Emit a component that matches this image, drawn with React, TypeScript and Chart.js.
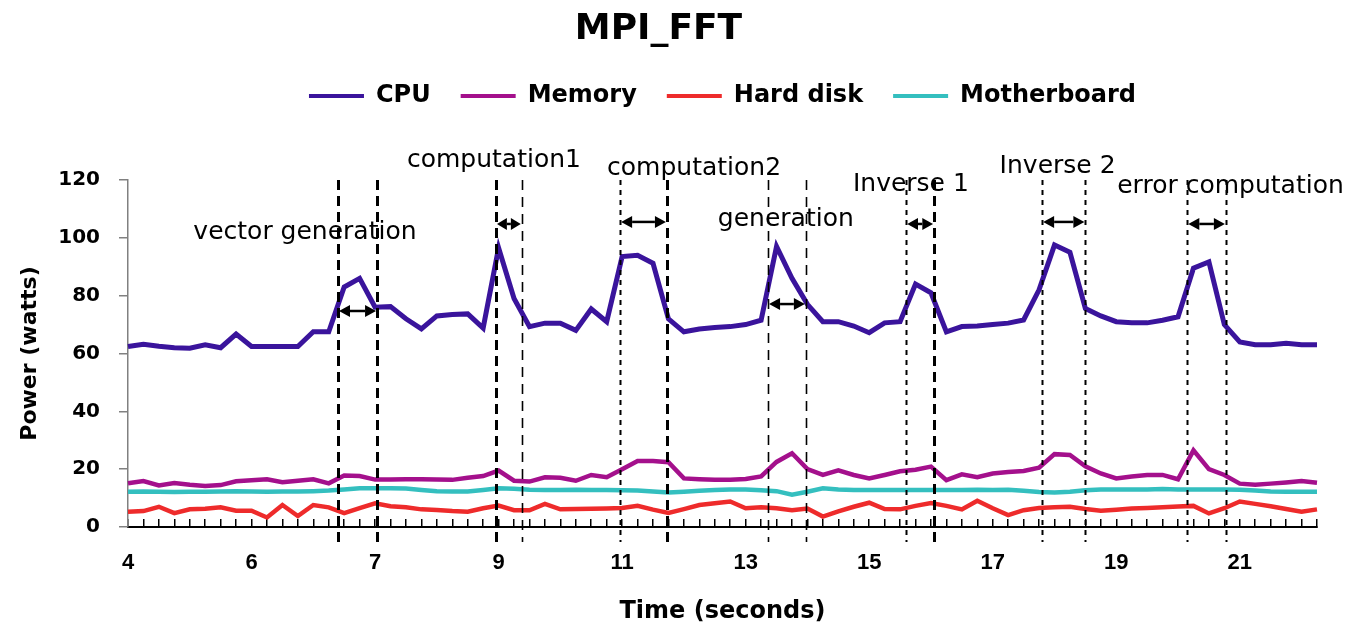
import React, { useEffect, useRef } from 'react';
import { Chart, registerables } from 'chart.js';

Chart.register(...registerables);

const chartTitle = 'MPI_FFT';
const xTitle = 'Time (seconds)';
const yTitle = 'Power (watts)';

// tick labels shown on every 8th sample
const tickLabels = ['4', '6', '7', '9', '11', '13', '15', '17', '19', '21'];
const LABEL_EVERY = 8;

const seriesNames = ['CPU', 'Memory', 'Hard disk', 'Motherboard'];
const seriesColors = ['#3a149c', '#a4108c', '#ee2b2b', '#34bfbf'];

const cpu = [
  62.4, 63.2, 62.5, 62, 61.8, 63, 62, 66.7, 62.4, 62.4, 62.4, 62.4, 67.5, 67.5, 83, 86,
  76, 76.2, 72, 68.5, 73, 73.5, 73.7, 68.8, 96.5, 79, 69.3, 70.5, 70.5, 68, 75.4, 71,
  93.5, 94, 91.2, 72, 67.5, 68.5, 69, 69.3, 70, 71.5, 97, 86, 77, 71, 71, 69.5,
  67.2, 70.6, 71, 84, 81, 67.5, 69.3, 69.5, 70, 70.5, 71.6, 82, 97.5, 95, 75.6, 73,
  71, 70.6, 70.6, 71.5, 72.7, 89.5, 91.7, 70, 64, 63, 63, 63.5, 63, 63,
];

const memory = [
  15.1, 15.9, 14.4, 15.2, 14.6, 14.2, 14.5, 15.8, 16.2, 16.5, 15.5, 16, 16.5, 15.1, 17.8, 17.6,
  16.4, 16.4, 16.5, 16.5, 16.4, 16.3, 17, 17.6, 19.5, 16, 15.7, 17.2, 17, 16, 18, 17.2,
  20, 22.8, 22.8, 22.4, 16.8, 16.5, 16.3, 16.3, 16.6, 17.5, 22.5, 25.5, 20, 18, 19.6, 18,
  16.8, 18, 19.3, 19.8, 20.9, 16.2, 18.2, 17.2, 18.5, 19, 19.4, 20.5, 25.2, 24.9, 21, 18.5,
  16.8, 17.5, 18, 18, 16.5, 26.5, 20, 18, 15, 14.6, 15, 15.4, 15.9, 15.3,
];

const hardDisk = [
  5.3, 5.5, 7, 4.8, 6.1, 6.3, 6.8, 5.6, 5.6, 3.3, 7.6, 3.8, 7.6, 6.8, 4.8, 6.5,
  8.2, 7.2, 6.8, 6.1, 5.9, 5.5, 5.3, 6.5, 7.4, 5.8, 5.8, 8, 6.1, 6.2, 6.3, 6.4,
  6.6, 7.3, 6, 4.9, 6.2, 7.6, 8.2, 8.8, 6.5, 6.8, 6.5, 5.8, 6.4, 3.6, 5.4, 7,
  8.4, 6.2, 6.1, 7.3, 8.3, 7.3, 6.1, 9.1, 6.5, 4.1, 5.8, 6.6, 6.8, 7, 6.2, 5.6,
  6, 6.4, 6.6, 6.8, 7.1, 7.3, 4.7, 6.5, 8.8, 8, 7.2, 6.2, 5.3, 6.1,
];

const motherboard = [
  12.2, 12.3, 12.2, 12.1, 12.2, 12.2, 12.3, 12.4, 12.3, 12.2, 12.3, 12.3, 12.4, 12.6, 13.0, 13.4,
  13.4, 13.4, 13.3, 12.8, 12.4, 12.3, 12.3, 12.8, 13.4, 13.2, 12.9, 12.8, 12.8, 12.9, 12.8, 12.8,
  12.7, 12.6, 12.3, 11.9, 12.2, 12.5, 12.8, 13, 13, 12.7, 12.4, 11.2, 12.2, 13.4, 13.0, 12.8,
  12.8, 12.8, 12.8, 12.8, 12.8, 12.8, 12.8, 12.9, 12.8, 12.9, 12.5, 12.1, 11.9, 12.2, 12.7, 13,
  13, 13, 13, 13.1, 13, 13, 13, 13, 12.9, 12.6, 12.3, 12.2, 12.2, 12.2,
];

const categories = cpu.map((_, i) => (i % LABEL_EVERY === 0 ? tickLabels[i / LABEL_EVERY] : ''));

// phase annotations (x in sample-index units, y in watts)
const phaseNames = ['vector generation', 'computation1', 'computation2', 'generation', 'Inverse 1', 'Inverse 2', 'error computation'];
const phaseStart = [13.6, 23.83, 31.87, 41.45, 50.4, 59.2, 68.6];
const phaseEnd = [16.13, 25.5, 34.9, 43.9, 52.2, 62.0, 71.1];
const phaseStartStyle = ['thick', 'thick', 'dot', 'thin', 'dot', 'dot', 'dot'];
const phaseEndStyle = ['thick', 'thin', 'thick', 'thin', 'thick', 'dot', 'dot'];
const arrowLevel = [74.7, 104.8, 105.5, 77.1, 104.8, 105.5, 104.8];
const labelX = [11.46, 23.7, 36.66, 42.6, 50.7, 60.2, 71.4];
const labelY = [101.7, 126.9, 124.1, 106.2, 118.6, 124.8, 117.9];

const lineStyles: Record<string, { w: number; dash: number[] }> = {
  thick: { w: 3, dash: [10, 6] },
  thin: { w: 1.6, dash: [10, 7] },
  dot: { w: 2, dash: [5, 5] },
};

const phasePlugin = {
  id: 'phases',
  afterDatasetsDraw(chart: any) {
    const { ctx, scales } = chart;
    const x = scales.x;
    const y = scales.y;
    const top = y.getPixelForValue(120);
    const bottom = y.getPixelForValue(0) + 15;
    ctx.save();
    ctx.strokeStyle = '#000';
    ctx.fillStyle = '#000';
    for (let i = 0; i < phaseNames.length; i++) {
      const xs = [phaseStart[i], phaseEnd[i]];
      const st = [phaseStartStyle[i], phaseEndStyle[i]];
      for (let k = 0; k < 2; k++) {
        const s = lineStyles[st[k]];
        const px = Math.round(x.getPixelForValue(xs[k])) + 0.5;
        ctx.lineWidth = s.w;
        ctx.setLineDash(s.dash);
        ctx.beginPath();
        ctx.moveTo(px, top);
        ctx.lineTo(px, bottom);
        ctx.stroke();
      }
      // double-headed arrow
      const x1 = x.getPixelForValue(phaseStart[i]) + 1;
      const x2 = x.getPixelForValue(phaseEnd[i]) - 1;
      const ay = y.getPixelForValue(arrowLevel[i]);
      const head = Math.min(11, (x2 - x1) / 2.4);
      ctx.setLineDash([]);
      ctx.lineWidth = 2.5;
      ctx.beginPath();
      ctx.moveTo(x1 + head, ay);
      ctx.lineTo(x2 - head, ay);
      ctx.stroke();
      ctx.beginPath();
      ctx.moveTo(x1, ay);
      ctx.lineTo(x1 + head, ay - 6);
      ctx.lineTo(x1 + head, ay + 6);
      ctx.closePath();
      ctx.fill();
      ctx.beginPath();
      ctx.moveTo(x2, ay);
      ctx.lineTo(x2 - head, ay - 6);
      ctx.lineTo(x2 - head, ay + 6);
      ctx.closePath();
      ctx.fill();
      // label
      ctx.font = '25px "DejaVu Sans"';
      ctx.textAlign = 'center';
      ctx.textBaseline = 'middle';
      ctx.fillText(phaseNames[i], x.getPixelForValue(labelX[i]), y.getPixelForValue(labelY[i]));
    }
    ctx.restore();
  },
};

export default function App() {
  const canvasRef = useRef<HTMLCanvasElement | null>(null);

  useEffect(() => {
    document.body.style.margin = '0';
    document.body.style.overflow = 'hidden';
    const canvas = canvasRef.current;
    if (!canvas) return;
    const series = [cpu, memory, hardDisk, motherboard];
    const widths = [5, 4.5, 4.5, 4.5];
    const chart = new Chart(canvas, {
      type: 'line',
      data: {
        labels: categories,
        datasets: series.map((d, i) => ({
          label: seriesNames[i],
          data: d,
          borderColor: seriesColors[i],
          backgroundColor: seriesColors[i],
          borderWidth: widths[i],
          pointRadius: 0,
          tension: 0,
          fill: false,
        })),
      },
      options: {
        responsive: false,
        animation: false,
        layout: { padding: { left: 0, right: 33, top: 0, bottom: 0 } },
        plugins: {
          title: {
            display: true,
            text: chartTitle,
            color: '#000',
            font: { family: '"DejaVu Sans"', size: 36, weight: 'bold' },
            padding: { top: 8.4, bottom: 2.4 },
          },
          subtitle: {
            display: true,
            text: '',
            weight: 500,
            font: { size: 10 },
            padding: { top: 25, bottom: 25 },
          } as any,
          legend: {
            display: true,
            position: 'top',
            fullSize: false,
            labels: {
              color: '#000',
              font: { family: '"DejaVu Sans"', size: 24, weight: 'bold' },
              boxWidth: 55,
              boxHeight: 4,
              padding: 30,
              generateLabels: (c: any) =>
                Chart.defaults.plugins.legend.labels.generateLabels(c).map((l: any) => ({ ...l, lineWidth: 0 })),
            },
          },
          tooltip: { enabled: false },
        },
        scales: {
          x: {
            type: 'category',
            offset: false,
            grid: { display: true, drawOnChartArea: false, drawTicks: true, tickLength: -8, color: '#000', lineWidth: 1.5 },
            border: { display: true, color: '#000', width: 2 },
            ticks: {
              autoSkip: false,
              maxRotation: 0,
              minRotation: 0,
              padding: 31,
              color: '#000',
              font: { family: '"Liberation Sans"', size: 22, weight: 'bold' },
              callback: function (this: any, v: any) {
                return this.getLabelForValue(v);
              },
            },
            title: {
              display: true,
              text: xTitle,
              color: '#000',
              font: { family: '"DejaVu Sans"', size: 24, weight: 'bold' },
              padding: { top: 0, bottom: 1 },
            },
            afterFit: (s: any) => {
              s.height = 100;
            },
          },
          y: {
            min: 0,
            max: 120,
            ticks: {
              stepSize: 20,
              padding: 19,
              color: '#000',
              font: { family: '"DejaVu Sans"', size: 20, weight: 'bold' },
            },
            grid: { drawOnChartArea: false, tickLength: 9, color: '#808080', lineWidth: 1.5 },
            border: { color: '#808080', width: 1.5 },
            title: {
              display: true,
              text: yTitle,
              color: '#000',
              font: { family: '"DejaVu Sans"', size: 22, weight: 'bold' },
              padding: { top: 17, bottom: 0 },
            },
            afterFit: (s: any) => {
              s.width = 128;
            },
          },
        },
      } as any,
      plugins: [phasePlugin],
    });
    return () => chart.destroy();
  }, []);

  return (
    <div style={{ width: 1350, height: 627 }}>
      <canvas ref={canvasRef} width={1350} height={627} style={{ display: 'block' }} />
    </div>
  );
}
